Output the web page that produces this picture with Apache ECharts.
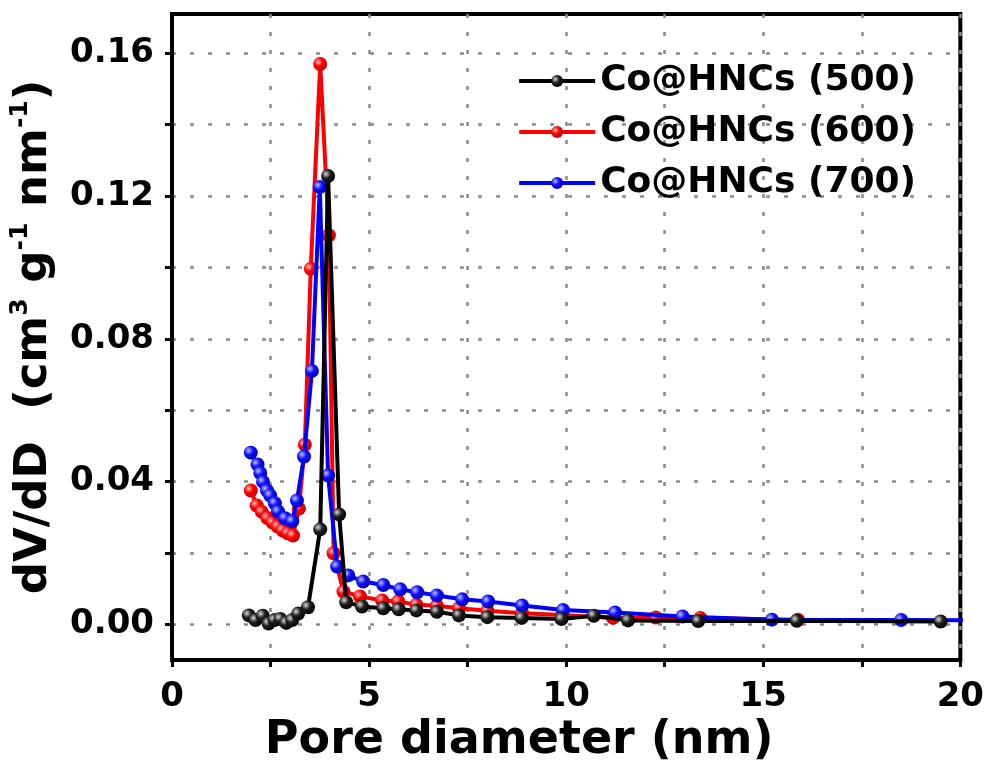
<!DOCTYPE html>
<html>
<head>
<meta charset="utf-8">
<script src="https://cdn.jsdelivr.net/npm/echarts@6/dist/echarts.min.js"></script>
<style>
  html, body { margin: 0; padding: 0; background: #fff; }
  #chart { width: 987px; height: 769px; }
</style>
</head>
<body>
<div id="chart"></div>
<script>
// pore size distribution, [diameter nm, dV/dD]
const co500 = [[1.95,0.0025],[2.12,0.0012],[2.3,0.0024],[2.45,0.0002],[2.6,0.0012],[2.75,0.0015],[2.9,0.0004],[3.05,0.0012],[3.2,0.003],[3.45,0.0048],[3.76,0.0266],[3.96,0.1256],[4.24,0.0308],[4.42,0.0062],[4.82,0.005],[5.36,0.0045],[5.75,0.0042],[6.2,0.0039],[6.72,0.0035],[7.28,0.0025],[8.0,0.002],[8.87,0.0018],[9.88,0.0015],[10.7,0.0024],[11.57,0.0011],[13.35,0.0009],[15.85,0.001],[19.5,0.0008]];
const co600 = [[2.0,0.0375],[2.15,0.0333],[2.28,0.0315],[2.42,0.0298],[2.55,0.0285],[2.68,0.0274],[2.81,0.0263],[2.94,0.0255],[3.07,0.0249],[3.22,0.0324],[3.37,0.0503],[3.52,0.0996],[3.76,0.157],[3.98,0.109],[4.1,0.0199],[4.35,0.0092],[4.77,0.0078],[5.33,0.0067],[5.74,0.0064],[6.2,0.0055],[6.72,0.0052],[7.28,0.0045],[8.0,0.0038],[8.88,0.0031],[9.9,0.0026],[11.19,0.0018],[12.27,0.0019],[13.4,0.0018],[15.88,0.0013]];
const co700 = [[2.0,0.0481],[2.17,0.0448],[2.24,0.0424],[2.31,0.0399],[2.41,0.0375],[2.49,0.0361],[2.61,0.0339],[2.69,0.0316],[2.87,0.0297],[3.05,0.0289],[3.17,0.0347],[3.35,0.047],[3.55,0.071],[3.75,0.1225],[3.96,0.0417],[4.19,0.0162],[4.47,0.0137],[4.85,0.012],[5.36,0.011],[5.79,0.0098],[6.22,0.009],[6.72,0.0081],[7.36,0.007],[8.02,0.0064],[8.88,0.0053],[9.92,0.004],[11.24,0.0033],[12.95,0.0022],[15.22,0.0013],[18.5,0.0012],[21,0.0011]];

const seriesNames = ['Co@HNCs (500)', 'Co@HNCs (600)', 'Co@HNCs (700)'];
const yLabelTicks = [0, 0.04, 0.08, 0.12, 0.16];
const yMinorTicks = [0, 0.02, 0.04, 0.06, 0.08, 0.10, 0.12, 0.14, 0.16];

const font = 'DejaVu Sans';

function ball(light, mid, dark) {
    return {
        type: 'radial', x: 0.35, y: 0.35, r: 0.7,
        colorStops: [
            { offset: 0, color: light },
            { offset: 0.45, color: mid },
            { offset: 1, color: dark }
        ]
    };
}

function makeSeries(name, data, color, fill, z) {
    return {
        name: name,
        type: 'line',
        data: data,
        z: z,
        symbol: 'circle',
        symbolSize: 14,
        clip: true,
        lineStyle: { color: color, width: 4 },
        itemStyle: { color: fill },
        emphasis: { disabled: true }
    };
}

const chart = echarts.init(document.getElementById('chart'));

const option = {
    animation: false,
    backgroundColor: '#fff',
    grid: {
        left: 172, right: 24, top: 14, bottom: 107,
        show: true, borderColor: '#000', borderWidth: 4
    },
    legend: {
        right: 66, top: 58, orient: 'vertical',
        itemWidth: 76, itemHeight: 15, itemGap: 15,
        lineStyle: { width: 4 },
        textStyle: { fontFamily: font, fontWeight: 'bold', fontSize: 36, color: '#000', lineHeight: 36 },
        data: seriesNames
    },
    xAxis: {
        type: 'value', min: 0, max: 20, interval: 5,
        name: 'Pore diameter (nm)', nameLocation: 'middle', nameGap: 58, nameMoveOverlap: false,
        nameTextStyle: { fontFamily: font, fontWeight: 'bold', fontSize: 46, color: '#000', padding: [0, 94, 0, 0] },
        axisLine: { onZero: false, lineStyle: { color: '#000', width: 4 } },
        axisTick: { inside: false, length: 7, lineStyle: { color: '#000', width: 3 } },
        minorTick: { show: true, splitNumber: 2, length: 7, lineStyle: { color: '#000', width: 3 } },
        axisLabel: { fontFamily: font, fontWeight: 'bold', fontSize: 34, color: '#000', margin: 20 },
        splitLine: { show: true, lineStyle: { color: '#8a8a8a', width: 2.5, type: [4, 14] } },
        minorSplitLine: { show: true, lineStyle: { color: '#8a8a8a', width: 2.5, type: [4, 14] } }
    },
    yAxis: {
        type: 'value', min: -0.01, max: 0.171,
        name: '{a|dV/dD  (cm}{s|3}{a| g}{s|-1}{a| nm}{s|-1}{a|)}',
        nameLocation: 'middle', nameGap: 112, nameRotate: 90, nameMoveOverlap: false,
        nameTextStyle: {
            rich: {
                a: { fontFamily: font, fontWeight: 'bold', fontSize: 45, color: '#000', lineHeight: 52 },
                s: { fontFamily: font, fontWeight: 'bold', fontSize: 25, color: '#000', verticalAlign: 'top', lineHeight: 52 }
            }
        },
        axisLine: { onZero: false, lineStyle: { color: '#000', width: 4 } },
        axisTick: { inside: false, length: 7, customValues: yMinorTicks, lineStyle: { color: '#000', width: 3 } },
        axisLabel: {
            fontFamily: font, fontWeight: 'bold', fontSize: 34, color: '#000', margin: 18,
            customValues: yLabelTicks,
            formatter: v => v.toFixed(2)
        },
        splitLine: { show: true, lineStyle: { color: '#8a8a8a', width: 2.5, type: [4, 14] } }
    },
    series: [
        makeSeries(seriesNames[0], co500, '#000', ball('#d8d8d8', '#202020', '#000'), 4),
        makeSeries(seriesNames[1], co600, '#ff0000', ball('#ffc0c0', '#ff0000', '#c00000'), 2),
        makeSeries(seriesNames[2], co700, '#0000ff', ball('#c0c0ff', '#1010ff', '#0000b0'), 3)
    ]
};

chart.setOption(option);
</script>
</body>
</html>
